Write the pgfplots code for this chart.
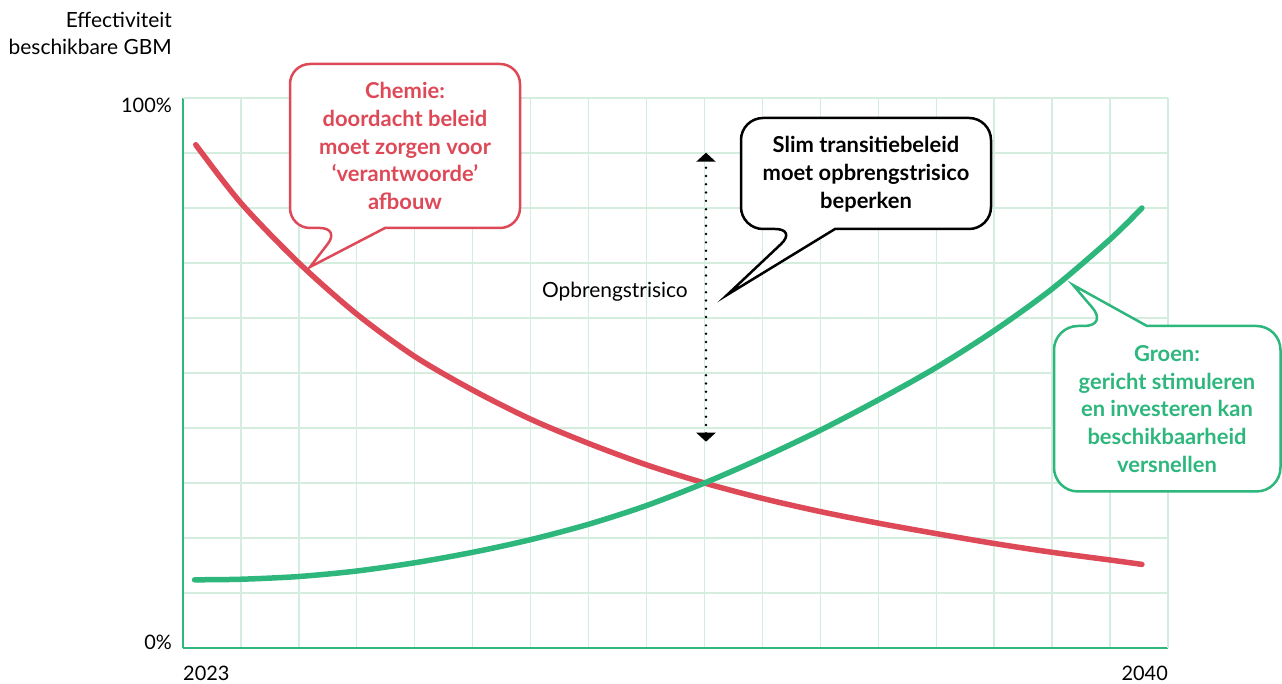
\documentclass[border=0pt]{standalone}
\usepackage{pgfplots}
\pgfplotsset{compat=1.18}
\usepackage{fontspec}
\setmainfont{Lato}
\usetikzlibrary{arrows.meta}
\definecolor{grn}{RGB}{46,183,125}
\definecolor{rd}{RGB}{222,73,88}
\definecolor{gridc}{RGB}{212,237,223}

\begin{document}
\begin{tikzpicture}[font=\fontsize{21}{28}\selectfont]
\begin{axis}[
  at={(183bp,36bp)}, anchor=south west,
  scale only axis, width=985bp, height=550bp,
  xmin=2023, xmax=2040, ymin=0, ymax=100,
  axis x line*=bottom, axis y line*=left,
  axis line style={draw=grn, line width=2.5bp, -},
  xtick={2023}, minor xtick={2024,...,2039}, extra x ticks={2040},
  ytick={0}, minor ytick={10,20,...,90}, extra y ticks={100},
  xticklabels={2023}, extra x tick labels={2040},
  yticklabels={0\%}, extra y tick labels={100\%},
  grid=both,
  major grid style={draw=gridc, line width=1.3bp},
  minor grid style={draw=gridc, line width=1.3bp},
  tick style={draw=none}, major tick length=0pt, minor tick length=0pt,
  ticklabel style={font=\fontsize{20}{24}\selectfont},
  xticklabel style={anchor=base west, inner sep=0pt, yshift=-33bp},
  yticklabel style={anchor=base east, inner sep=0pt, xshift=-11bp, yshift=-2bp},
  extra x tick style={grid=major, xticklabel style={anchor=base east}},
  extra y tick style={grid=major, yticklabel style={anchor=base east, yshift=-12.7bp}},
  clip=false,
]
\addplot[rd, line width=5.5bp, line cap=round, smooth] coordinates {
 (2023.22,91.5) (2024,80.9) (2025,70.0) (2026,60.7) (2027,53.0) (2028,46.9)
 (2029,41.6) (2030,37.2) (2031,33.3) (2032,30.0) (2033,27.2) (2034,24.8)
 (2035,22.7) (2036,20.8) (2037,19.0) (2038,17.4) (2039,16.0) (2039.55,15.2)
};
\addplot[grn, line width=5.5bp, line cap=round, smooth] coordinates {
 (2023.2,12.4) (2024,12.5) (2025,13.0) (2026,14.0) (2027,15.5) (2028,17.4)
 (2029,19.7) (2030,22.5) (2031,25.9) (2032,30.0) (2033,34.6) (2034,39.6)
 (2035,45.1) (2036,51.0) (2037,57.7) (2038,65.3) (2039,74.3) (2039.55,80.0)
};
\end{axis}

\begin{scope}[x=1bp, y=-1bp, yshift=684bp]
  % y label
  \node[anchor=base east, align=right, inner sep=0pt] at (172,55) {Effectiviteit\\beschikbare GBM};
  % dotted arrow
  \draw[line width=2.7bp, dash pattern=on 0bp off 8.3bp, line cap=round,
        {Triangle[width=19bp,length=9bp]}-{Triangle[width=19bp,length=9bp]}]
        (706,441.7) -- (706,152.7);
  \node[anchor=base east, inner sep=0pt] at (688,297.5) {Opbrengstrisico};
  % red bubble
  \draw[rd, line width=2.5bp, fill=white, rounded corners=20bp]
     (450,228) -- (520,228) -- (520,64) -- (290,64) -- (290,228) -- (340,228)
     [sharp corners] -- (310,267) -- (385,228) -- cycle;
  \node[rd, font=\fontsize{22}{28}\selectfont\bfseries, align=center] at (405,146)
     {Chemie:\\doordacht beleid\\moet zorgen voor\\‘verantwoorde’\\afbouw};
  % black bubble
  \draw[black, line width=2.5bp, fill=white, rounded corners=22bp]
     (900,229) -- (991,229) -- (991,118) -- (741,118) -- (741,229) -- (797,229)
     [sharp corners] -- (727,295) -- (835,229) -- cycle;
  \node[black, font=\fontsize{22}{28}\selectfont\bfseries, align=center] at (866,174)
     {Slim transitiebeleid\\moet opbrengstrisico\\beperken};
  % green bubble
  \draw[grn, line width=2.5bp, fill=white, rounded corners=24bp]
     (1200,326) -- (1280.5,326) -- (1280.5,491.5) -- (1054,491.5) -- (1054,326) -- (1108,326)
     [sharp corners] -- (1073,285) -- (1147,326) -- cycle;
  \node[grn, font=\fontsize{22}{28}\selectfont\bfseries, align=center] at (1167,409)
     {Groen:\\gericht stimuleren\\en investeren kan\\beschikbaarheid\\versnellen};
\end{scope}

\pgfresetboundingbox
\path[use as bounding box] (0,0) rectangle (1282bp,684bp);
\end{tikzpicture}
\end{document}
